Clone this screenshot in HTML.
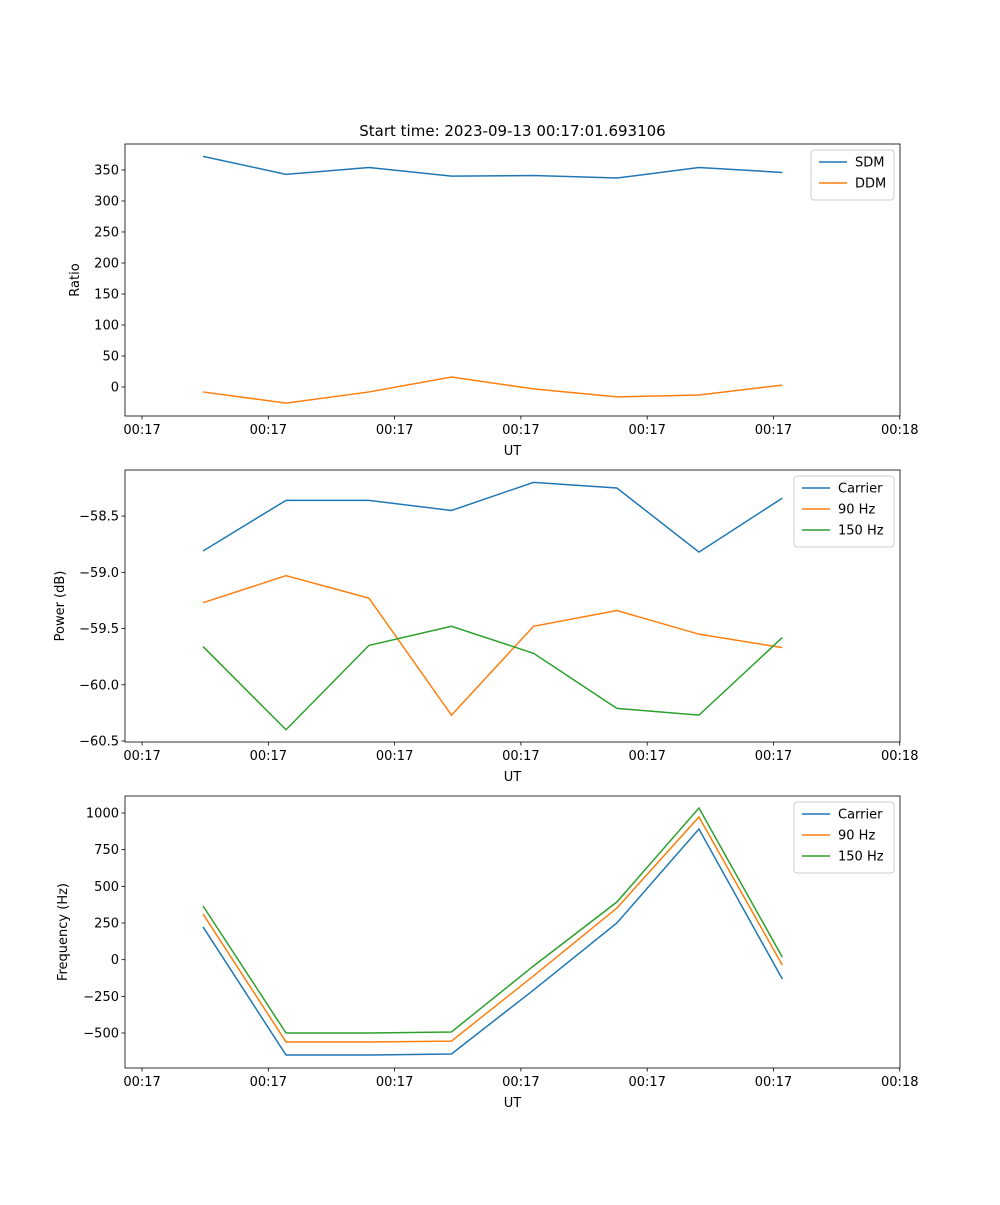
<!DOCTYPE html>
<html><head><meta charset="utf-8"><style>
body{margin:0;background:#fff}
svg text{font-family:"DejaVu Sans","Liberation Sans",sans-serif;font-size:13px;fill:#000}
</style></head><body>
<svg id="c" width="1000" height="1200"></svg>
<script>
const xSeconds=[4.83,11.4,17.97,24.5,31.0,37.6,44.1,50.7];
const xTickVals=[0,10,20,30,40,50,60];
const xTickLabels=["00:17","00:17","00:17","00:17","00:17","00:17","00:18"];
const sdm=[372,343,354,340,341,337,354,346];
const ddm=[-8,-26,-8,16,-3,-16,-13,3];
const powCarrier=[-58.81,-58.36,-58.36,-58.45,-58.20,-58.25,-58.82,-58.34];
const pow90=[-59.27,-59.03,-59.23,-60.27,-59.48,-59.34,-59.55,-59.67];
const pow150=[-59.66,-60.40,-59.65,-59.48,-59.72,-60.21,-60.27,-59.58];
const freqCarrier=[223,-650,-650,-643,-207,250,891,-132];
const freq90=[311,-561,-561,-555,-111,352,973,-37];
const freq150=[366,-500,-500,-493,-43,393,1034,17];
const ratioTicks=[0,50,100,150,200,250,300,350];
const powTicks=[-58.5,-59.0,-59.5,-60.0,-60.5];
const freqTicks=[1000,750,500,250,0,-250,-500];

const NS="http://www.w3.org/2000/svg";
const svg=document.getElementById('c');
function el(t,a,p){const e=document.createElementNS(NS,t);for(const k in a)e.setAttribute(k,a[k]);(p||svg).appendChild(e);return e;}
const L=125,R=900,xmin=-1.35,xmax=60.02;
const sx=v=>L+(v-xmin)/(xmax-xmin)*(R-L);
const C=['#1f77b4','#ff7f0e','#2ca02c'];

function panel(name,top,bot,ymin,ymax,yt,fmt,series,labels,ylabel,legW){
  const g=el('g',{});
  
  
  const sy=v=>bot-(v-ymin)/(ymax-ymin)*(bot-top);
  series.forEach((s,i)=>{
    const p=el('polyline',{points:s.map((v,j)=>sx(xSeconds[j])+','+sy(v)).join(' '),fill:'none',stroke:C[i],'stroke-width':1.5},g);
    
    
  });
  const f=el('rect',{x:L,y:top,width:R-L,height:bot-top,fill:'none',stroke:'#000','stroke-width':0.8},g);
  
  
  xTickVals.forEach((v,i)=>{
    const x=sx(v);
    el('line',{x1:x,x2:x,y1:bot,y2:bot+3.5,stroke:'#000','stroke-width':0.8},g);
    const t=el('text',{x:x,y:bot+18,'text-anchor':'middle'},g);t.textContent=xTickLabels[i];
    
    
  });
  yt.forEach(v=>{
    const y=sy(v);
    el('line',{x1:L-3.5,x2:L,y1:y,y2:y,stroke:'#000','stroke-width':0.8},g);
    const t=el('text',{x:L-6,y:y+4.5,'text-anchor':'end'},g);t.textContent=fmt(v);
    
    
  });
  const xt=el('text',{x:(L+R)/2,y:bot+39,'text-anchor':'middle'},g);xt.textContent='UT';
  
  
  const yx=ylabel.x,yy=(top+bot)/2;
  const ytl=el('text',{x:yx,y:yy,'text-anchor':'middle',transform:`rotate(-90 ${yx} ${yy})`},g);ytl.textContent=ylabel.t;
  
  
  const lx=R-6-legW,ly=top+6,lh=labels.length*21+8;
  const lg=el('g',{},g);
  
  
  el('rect',{x:lx,y:ly,width:legW,height:lh,rx:3,fill:'#fff',stroke:'#ccc','stroke-width':1},lg);
  labels.forEach((s,i)=>{
    const y=ly+12+i*21;
    el('line',{x1:lx+8,x2:lx+36,y1:y,y2:y,stroke:C[i],'stroke-width':1.5},lg);
    const t=el('text',{x:lx+44,y:y+4.5},lg);t.textContent=s;
    
    
  });
}
const tt=el('text',{x:512.5,y:136,'text-anchor':'middle',style:'font-size:15px'});tt.textContent='Start time: 2023-09-13 00:17:01.693106';


panel('ratio',144,416,-46.8,391.9,ratioTicks,v=>String(v),[sdm,ddm],['SDM','DDM'],{x:79,t:'Ratio'},83);
panel('power',470,742,-60.509,-58.09,powTicks,v=>v.toFixed(1).replace('-','\u2212'),[powCarrier,pow90,pow150],['Carrier','90 Hz','150 Hz'],{x:64,t:'Power (dB)'},100);
panel('frequency',796,1068,-738.6,1115.9,freqTicks,v=>String(v).replace('-','\u2212'),[freqCarrier,freq90,freq150],['Carrier','90 Hz','150 Hz'],{x:67,t:'Frequency (Hz)'},100);
</script>
</body></html>
